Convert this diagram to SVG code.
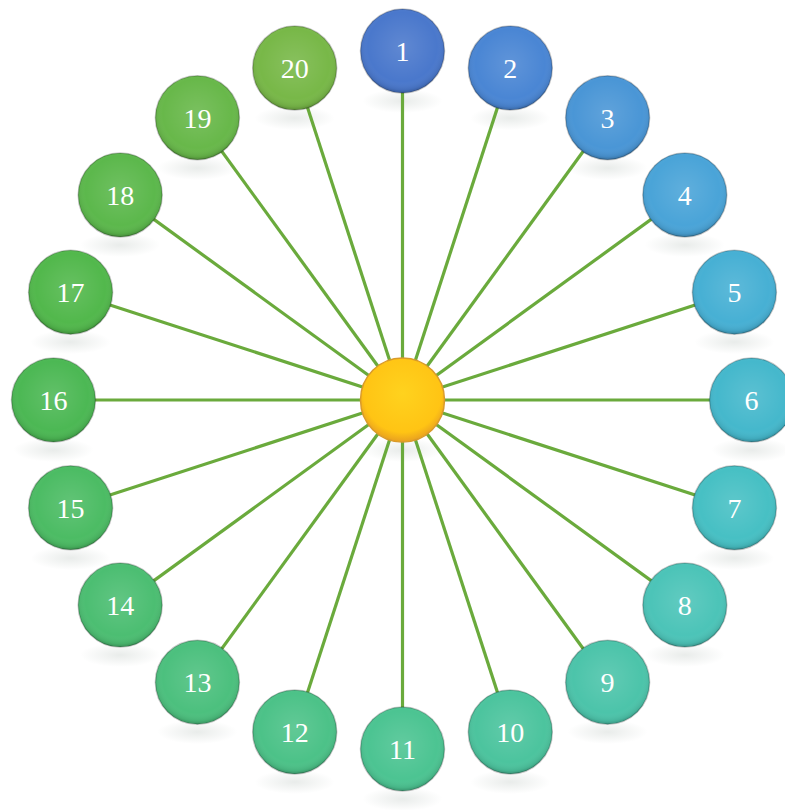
<svg xmlns="http://www.w3.org/2000/svg" width="785" height="810" viewBox="0 0 785 810">
<defs>
<style>
.ln{stroke:#6aaa3c;stroke-width:3.2;fill:none}
.rim{stroke:rgba(0,0,0,0.22);stroke-width:1.5}
.t{font-family:"Liberation Serif","Times New Roman",serif;font-size:28px;fill:#fff;text-anchor:middle}
.sh{fill:url(#shine)}
.rf{fill:url(#refl)}
</style>
<radialGradient id="shine" cx="50%" cy="45%" r="55%">
<stop offset="0" stop-color="#fff" stop-opacity="0.12"/>
<stop offset="0.75" stop-color="#fff" stop-opacity="0"/>
<stop offset="0.93" stop-color="#000" stop-opacity="0.08"/>
<stop offset="1" stop-color="#000" stop-opacity="0.25"/>
</radialGradient>
<radialGradient id="refl" cx="50%" cy="50%" r="50%">
<stop offset="0" stop-color="#9aa8a0" stop-opacity="0.22"/>
<stop offset="1" stop-color="#9aa8a0" stop-opacity="0"/>
</radialGradient>
<radialGradient id="sun" cx="50%" cy="42%" r="58%">
<stop offset="0" stop-color="#ffd21e"/>
<stop offset="0.8" stop-color="#ffc414"/>
<stop offset="1" stop-color="#e8a020"/>
</radialGradient>
</defs>
<g id="reflections">
<ellipse class="rf" cx="402.5" cy="101" rx="40" ry="12"/>
<ellipse class="rf" cx="510.3" cy="118" rx="40" ry="12"/>
<ellipse class="rf" cx="607.6" cy="168" rx="40" ry="12"/>
<ellipse class="rf" cx="684.8" cy="245" rx="40" ry="12"/>
<ellipse class="rf" cx="734.4" cy="342" rx="40" ry="12"/>
<ellipse class="rf" cx="751.5" cy="450" rx="40" ry="12"/>
<ellipse class="rf" cx="734.4" cy="558" rx="40" ry="12"/>
<ellipse class="rf" cx="684.8" cy="655" rx="40" ry="12"/>
<ellipse class="rf" cx="607.6" cy="732" rx="40" ry="12"/>
<ellipse class="rf" cx="510.3" cy="782" rx="40" ry="12"/>
<ellipse class="rf" cx="402.5" cy="799" rx="40" ry="12"/>
<ellipse class="rf" cx="294.7" cy="782" rx="40" ry="12"/>
<ellipse class="rf" cx="197.4" cy="732" rx="40" ry="12"/>
<ellipse class="rf" cx="120.2" cy="655" rx="40" ry="12"/>
<ellipse class="rf" cx="70.6" cy="558" rx="40" ry="12"/>
<ellipse class="rf" cx="53.5" cy="450" rx="40" ry="12"/>
<ellipse class="rf" cx="70.6" cy="342" rx="40" ry="12"/>
<ellipse class="rf" cx="120.2" cy="245" rx="40" ry="12"/>
<ellipse class="rf" cx="197.4" cy="168" rx="40" ry="12"/>
<ellipse class="rf" cx="294.7" cy="118" rx="40" ry="12"/>
<ellipse class="rf" cx="402.5" cy="450" rx="40" ry="12"/>
</g>
<g id="connectors">
<line class="ln" x1="402.5" y1="400" x2="402.5" y2="51"/>
<line class="ln" x1="402.5" y1="400" x2="510.3" y2="68.1"/>
<line class="ln" x1="402.5" y1="400" x2="607.6" y2="117.7"/>
<line class="ln" x1="402.5" y1="400" x2="684.8" y2="194.9"/>
<line class="ln" x1="402.5" y1="400" x2="734.4" y2="292.2"/>
<line class="ln" x1="402.5" y1="400" x2="751.5" y2="400"/>
<line class="ln" x1="402.5" y1="400" x2="734.4" y2="507.8"/>
<line class="ln" x1="402.5" y1="400" x2="684.8" y2="605.1"/>
<line class="ln" x1="402.5" y1="400" x2="607.6" y2="682.3"/>
<line class="ln" x1="402.5" y1="400" x2="510.3" y2="731.9"/>
<line class="ln" x1="402.5" y1="400" x2="402.5" y2="749"/>
<line class="ln" x1="402.5" y1="400" x2="294.7" y2="731.9"/>
<line class="ln" x1="402.5" y1="400" x2="197.4" y2="682.3"/>
<line class="ln" x1="402.5" y1="400" x2="120.2" y2="605.1"/>
<line class="ln" x1="402.5" y1="400" x2="70.6" y2="507.8"/>
<line class="ln" x1="402.5" y1="400" x2="53.5" y2="400"/>
<line class="ln" x1="402.5" y1="400" x2="70.6" y2="292.2"/>
<line class="ln" x1="402.5" y1="400" x2="120.2" y2="194.9"/>
<line class="ln" x1="402.5" y1="400" x2="197.4" y2="117.7"/>
<line class="ln" x1="402.5" y1="400" x2="294.7" y2="68.1"/>
</g>
<g id="center"><circle cx="402.5" cy="400" r="42" fill="url(#sun)" stroke="#d99a2a" stroke-width="1.5"/></g>
<g id="n1"><circle class="rim" cx="402.5" cy="51" r="42" fill="#4a78cc"/><circle class="sh" cx="402.5" cy="51" r="42"/><text class="t" x="402.5" y="61">1</text></g>
<g id="n2"><circle class="rim" cx="510.3" cy="68.1" r="42" fill="#4a86d4"/><circle class="sh" cx="510.3" cy="68.1" r="42"/><text class="t" x="510.3" y="78">2</text></g>
<g id="n3"><circle class="rim" cx="607.6" cy="117.7" r="42" fill="#4a96d6"/><circle class="sh" cx="607.6" cy="117.7" r="42"/><text class="t" x="607.6" y="128">3</text></g>
<g id="n4"><circle class="rim" cx="684.8" cy="194.9" r="42" fill="#4aa4d8"/><circle class="sh" cx="684.8" cy="194.9" r="42"/><text class="t" x="684.8" y="205">4</text></g>
<g id="n5"><circle class="rim" cx="734.4" cy="292.2" r="42" fill="#47b0d4"/><circle class="sh" cx="734.4" cy="292.2" r="42"/><text class="t" x="734.4" y="302">5</text></g>
<g id="n6"><circle class="rim" cx="751.5" cy="400" r="42" fill="#45b8cc"/><circle class="sh" cx="751.5" cy="400" r="42"/><text class="t" x="751.5" y="410">6</text></g>
<g id="n7"><circle class="rim" cx="734.4" cy="507.8" r="42" fill="#47c0c4"/><circle class="sh" cx="734.4" cy="507.8" r="42"/><text class="t" x="734.4" y="518">7</text></g>
<g id="n8"><circle class="rim" cx="684.8" cy="605.1" r="42" fill="#4cc4b8"/><circle class="sh" cx="684.8" cy="605.1" r="42"/><text class="t" x="684.8" y="615">8</text></g>
<g id="n9"><circle class="rim" cx="607.6" cy="682.3" r="42" fill="#4cc4aa"/><circle class="sh" cx="607.6" cy="682.3" r="42"/><text class="t" x="607.6" y="692">9</text></g>
<g id="n10"><circle class="rim" cx="510.3" cy="731.9" r="42" fill="#4cc49e"/><circle class="sh" cx="510.3" cy="731.9" r="42"/><text class="t" x="510.3" y="742">10</text></g>
<g id="n11"><circle class="rim" cx="402.5" cy="749" r="42" fill="#4cc492"/><circle class="sh" cx="402.5" cy="749" r="42"/><text class="t" x="402.5" y="759">11</text></g>
<g id="n12"><circle class="rim" cx="294.7" cy="731.9" r="42" fill="#4cc288"/><circle class="sh" cx="294.7" cy="731.9" r="42"/><text class="t" x="294.7" y="742">12</text></g>
<g id="n13"><circle class="rim" cx="197.4" cy="682.3" r="42" fill="#4cc07e"/><circle class="sh" cx="197.4" cy="682.3" r="42"/><text class="t" x="197.4" y="692">13</text></g>
<g id="n14"><circle class="rim" cx="120.2" cy="605.1" r="42" fill="#4cbe72"/><circle class="sh" cx="120.2" cy="605.1" r="42"/><text class="t" x="120.2" y="615">14</text></g>
<g id="n15"><circle class="rim" cx="70.6" cy="507.8" r="42" fill="#4cbc64"/><circle class="sh" cx="70.6" cy="507.8" r="42"/><text class="t" x="70.6" y="518">15</text></g>
<g id="n16"><circle class="rim" cx="53.5" cy="400" r="42" fill="#4cb854"/><circle class="sh" cx="53.5" cy="400" r="42"/><text class="t" x="53.5" y="410">16</text></g>
<g id="n17"><circle class="rim" cx="70.6" cy="292.2" r="42" fill="#52b84c"/><circle class="sh" cx="70.6" cy="292.2" r="42"/><text class="t" x="70.6" y="302">17</text></g>
<g id="n18"><circle class="rim" cx="120.2" cy="194.9" r="42" fill="#5cb84c"/><circle class="sh" cx="120.2" cy="194.9" r="42"/><text class="t" x="120.2" y="205">18</text></g>
<g id="n19"><circle class="rim" cx="197.4" cy="117.7" r="42" fill="#68b84a"/><circle class="sh" cx="197.4" cy="117.7" r="42"/><text class="t" x="197.4" y="128">19</text></g>
<g id="n20"><circle class="rim" cx="294.7" cy="68.1" r="42" fill="#78b848"/><circle class="sh" cx="294.7" cy="68.1" r="42"/><text class="t" x="294.7" y="78">20</text></g>
</svg>
